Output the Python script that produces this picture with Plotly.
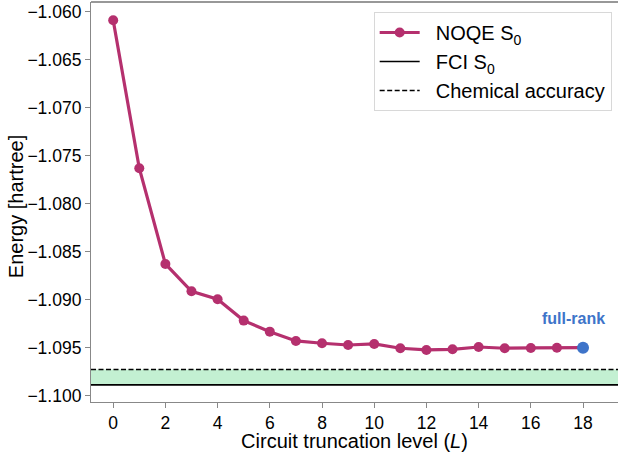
import plotly.graph_objects as go

L = list(range(19))
noqe_s0 = [-1.06087, -1.07628, -1.08625, -1.08910, -1.08993, -1.09215, -1.09330,
           -1.09427, -1.09451, -1.09469, -1.09458, -1.09503, -1.09521, -1.09514,
           -1.09490, -1.09503, -1.09500, -1.09497, -1.09497]
fci_s0 = -1.09885
chem_acc = -1.09725
x_ticks = list(range(0, 19, 2))
y_ticks = [-1.060, -1.065, -1.070, -1.075, -1.080, -1.085, -1.090, -1.095, -1.100]

xmin, xmax = -0.85, 19.34
FONT = "Arial, Liberation Sans, Helvetica, sans-serif"
MAG = "#B5306E"
BLUE = "#3E74C9"

fig = go.Figure()
fig.add_trace(go.Scatter(x=[xmin, xmax, xmax, xmin], y=[fci_s0, fci_s0, chem_acc, chem_acc],
                         fill="toself", fillcolor="#C3F0D2", line=dict(width=0),
                         mode="lines", showlegend=False, hoverinfo="skip"))
fig.add_trace(go.Scatter(x=L, y=noqe_s0, mode="lines+markers", name="&nbsp;&nbsp;NOQE S<sub>0</sub>",
                         line=dict(color=MAG, width=3.2), marker=dict(color=MAG, size=10)))
fig.add_trace(go.Scatter(x=[xmin, xmax], y=[fci_s0, fci_s0], mode="lines", name="&nbsp;&nbsp;FCI S<sub>0</sub>",
                         line=dict(color="black", width=1.6)))
fig.add_trace(go.Scatter(x=[xmin, xmax], y=[chem_acc, chem_acc], mode="lines", name="&nbsp;&nbsp;Chemical accuracy",
                         line=dict(color="black", width=1.6, dash="5px,2.5px")))
fig.add_trace(go.Scatter(x=[L[-1]], y=[noqe_s0[-1]], mode="markers", showlegend=False,
                         marker=dict(color=BLUE, size=12)))
fig.add_annotation(x=17.65, y=-1.09188, text="<b>full-rank</b>", showarrow=False,
                   font=dict(family=FONT, size=16, color=BLUE), xanchor="center", yanchor="middle")
# y-axis title
fig.add_annotation(xref="paper", yref="paper", x=-0.142, y=0.4875, text="Energy [hartree]",
                   textangle=-90, showarrow=False, xanchor="center", yanchor="middle",
                   font=dict(family=FONT, size=20, color="black"))
# top spine
fig.add_shape(type="line", xref="paper", yref="paper", x0=0, x1=1, y0=1, y1=1,
              line=dict(color="#333333", width=1.2))

fig.update_layout(
    width=618, height=452,
    margin=dict(l=91, r=0, t=2, b=50),
    plot_bgcolor="white", paper_bgcolor="white",
    font=dict(family=FONT, color="black"),
    legend=dict(x=0.988, y=0.975, xanchor="right", yanchor="top",
                bgcolor="white", bordercolor="#D8D8D8", borderwidth=1,
                font=dict(family=FONT, size=20), itemwidth=40),
    xaxis=dict(range=[xmin, xmax], tickvals=x_ticks, showgrid=False, zeroline=False,
               showline=True, linecolor="#888888", linewidth=1.2,
               ticks="outside", ticklen=5, tickcolor="#888888",
               tickfont=dict(size=17.5),
               title=dict(text="Circuit truncation level (<i>L</i>)", font=dict(size=20), standoff=5)),
    yaxis=dict(range=[-1.10063, -1.05896], tickvals=y_ticks, tickformat=".3f",
               showgrid=False, zeroline=False,
               showline=True, linecolor="#888888", linewidth=1.2,
               ticks="outside", ticklen=5, tickcolor="#888888",
               tickfont=dict(size=17.5)),
)
fig.write_html("out.html", config={"displayModeBar": False},
               post_script="document.body.style.margin='0';document.body.style.overflow='hidden';")
